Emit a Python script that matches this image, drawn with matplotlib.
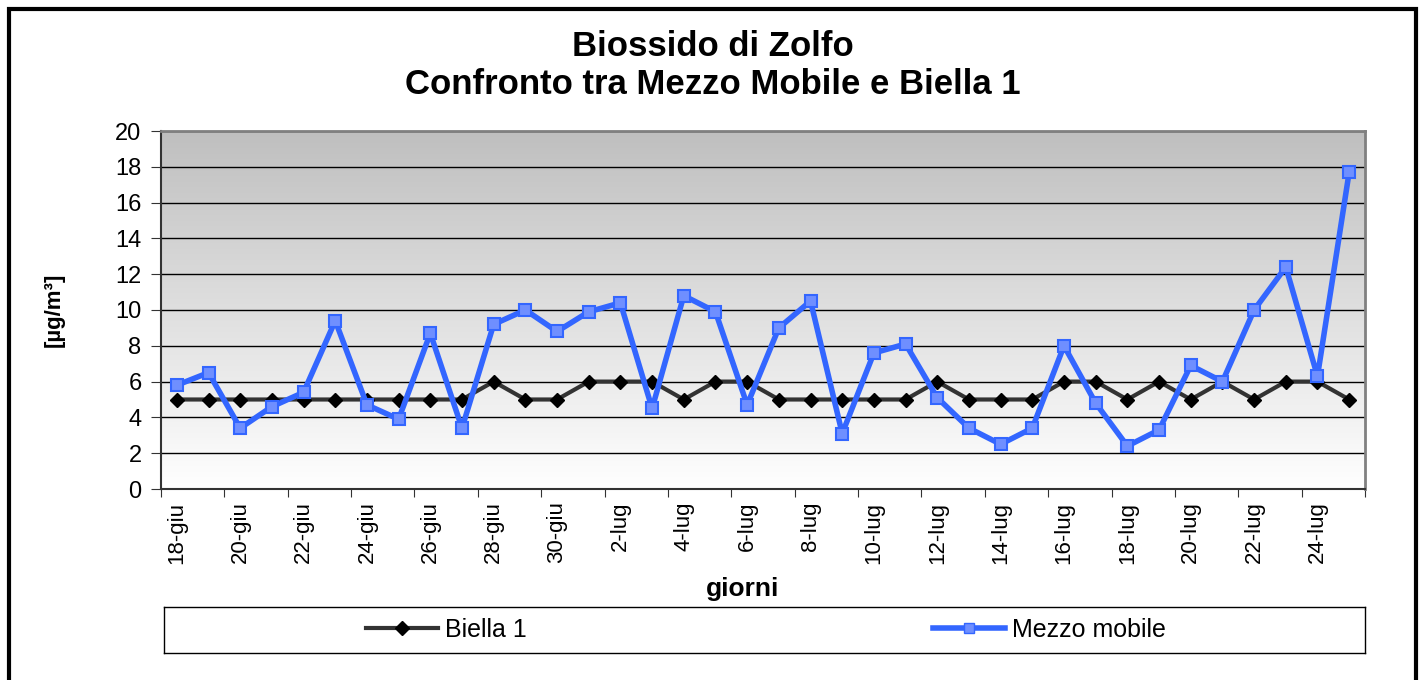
import matplotlib
matplotlib.use('Agg')
import matplotlib.pyplot as plt
import numpy as np
from matplotlib.colors import LinearSegmentedColormap
from matplotlib.lines import Line2D
from matplotlib.patches import Rectangle

plt.rcParams['font.family'] = ['Liberation Sans', 'DejaVu Sans']

giorni = ['%d-giu' % d for d in range(18, 31)] + ['%d-lug' % d for d in range(1, 26)]

biella_1 = [5, 5, 5, 5, 5, 5, 5, 5, 5, 5, 6, 5, 5,
            6, 6, 6, 5, 6, 6, 5, 5, 5, 5, 5, 6, 5, 5, 5, 6, 6, 5, 6, 5, 6, 5, 6, 6, 5]
mezzo_mobile = [5.8, 6.5, 3.4, 4.6, 5.4, 9.4, 4.7, 3.9, 8.7, 3.4, 9.2, 10.0, 8.8,
                9.9, 10.4, 4.5, 10.8, 9.9, 4.7, 9.0, 10.5, 3.1, 7.6, 8.1, 5.1,
                3.4, 2.5, 3.4, 8.0, 4.8, 2.4, 3.3, 6.9, 6.0, 10.0, 12.4, 6.3, 17.7]

BLUE = '#3366ff'
DARK = '#333333'

fig = plt.figure(figsize=(14.21, 6.8), dpi=100)
ax = fig.add_axes([161 / 1421, 1 - 489 / 680, 1204 / 1421, 358 / 680])
x = np.arange(len(giorni))

# sfondo sfumato
grad = np.linspace(0, 1, 256).reshape(-1, 1)
cmap = LinearSegmentedColormap.from_list('bg', ['#bfbfbf', '#ffffff'])
ax.imshow(grad, cmap=cmap, extent=[0, 1, 0, 1], transform=ax.transAxes,
          aspect='auto', zorder=0)

ax.plot(x, biella_1, color=DARK, lw=3, marker='D', ms=7, mfc='black',
        mec='black', zorder=3, label='Biella 1')
ax.plot(x, mezzo_mobile, color=BLUE, lw=4, marker='s', ms=8, mfc='#6f8fff',
        mec=BLUE, mew=1.5, zorder=4, label='Mezzo mobile')

ax.set_xlim(-0.5, len(giorni) - 0.5)
ax.set_ylim(0, 20)
ax.set_yticks(range(0, 21, 2))
ax.grid(axis='y', color='black', lw=1)
ax.set_axisbelow('line')

ax.set_xticks(np.arange(-0.5, len(giorni), 2))
ax.set_xticklabels([])
ax.set_xticks(x[::2], minor=True)
ax.set_xticklabels(giorni[::2], minor=True, rotation=90, fontsize=16)
ax.tick_params(axis='x', which='major', direction='out', length=6, color='#333333')
ax.tick_params(axis='x', which='minor', length=0, pad=9)
ax.tick_params(axis='y', direction='out', length=7, labelsize=17, pad=7, color='#333333')

for s in ['top', 'right']:
    ax.spines[s].set_color('#808080')
    ax.spines[s].set_linewidth(2)
for s in ['left', 'bottom']:
    ax.spines[s].set_color('#333333')
    ax.spines[s].set_linewidth(1.5)

ax.set_ylabel('[µg/m³]', fontsize=16, fontweight='bold')
ax.yaxis.set_label_coords(-0.08, 0.5)
ax.set_xlabel('giorni', fontsize=19, fontweight='bold')
ax.xaxis.set_label_coords(0.483, -0.246)

fig.text(0.5015, 1 - 65.5 / 680, 'Biossido di Zolfo\nConfronto tra Mezzo Mobile e Biella 1',
         ha='center', va='center', fontsize=25, fontweight='bold', linespacing=1.21)

# legenda in un riquadro separato
ax_leg = fig.add_axes([164 / 1421, 1 - 653 / 680, 1201 / 1421, 46 / 680])
ax_leg.set_xticks([])
ax_leg.set_yticks([])
for s in ax_leg.spines.values():
    s.set_color('black')
    s.set_linewidth(1)
h_b = Line2D([], [], color=DARK, lw=3, marker='D', ms=7, mfc='black', mec='black')
h_m = Line2D([], [], color=BLUE, lw=4, marker='s', ms=7, mfc='#6f8fff', mec=BLUE)
leg1 = ax_leg.legend([h_b], ['Biella 1'], loc='center', bbox_to_anchor=(0.235, 0.5),
                     frameon=False, fontsize=18, handlelength=2.9, handletextpad=0.25)
ax_leg.add_artist(leg1)
ax_leg.legend([h_m], ['Mezzo mobile'], loc='center', bbox_to_anchor=(0.737, 0.5),
              frameon=False, fontsize=18, handlelength=2.9, handletextpad=0.25)

# cornice esterna
frame = Rectangle((9 / 1421, -0.1), 1407 / 1421, 1.1 - 9 / 680, fill=False,
                  lw=3, edgecolor='black', transform=fig.transFigure, clip_on=False)
fig.add_artist(frame)

fig.savefig('out.png', dpi=100)
